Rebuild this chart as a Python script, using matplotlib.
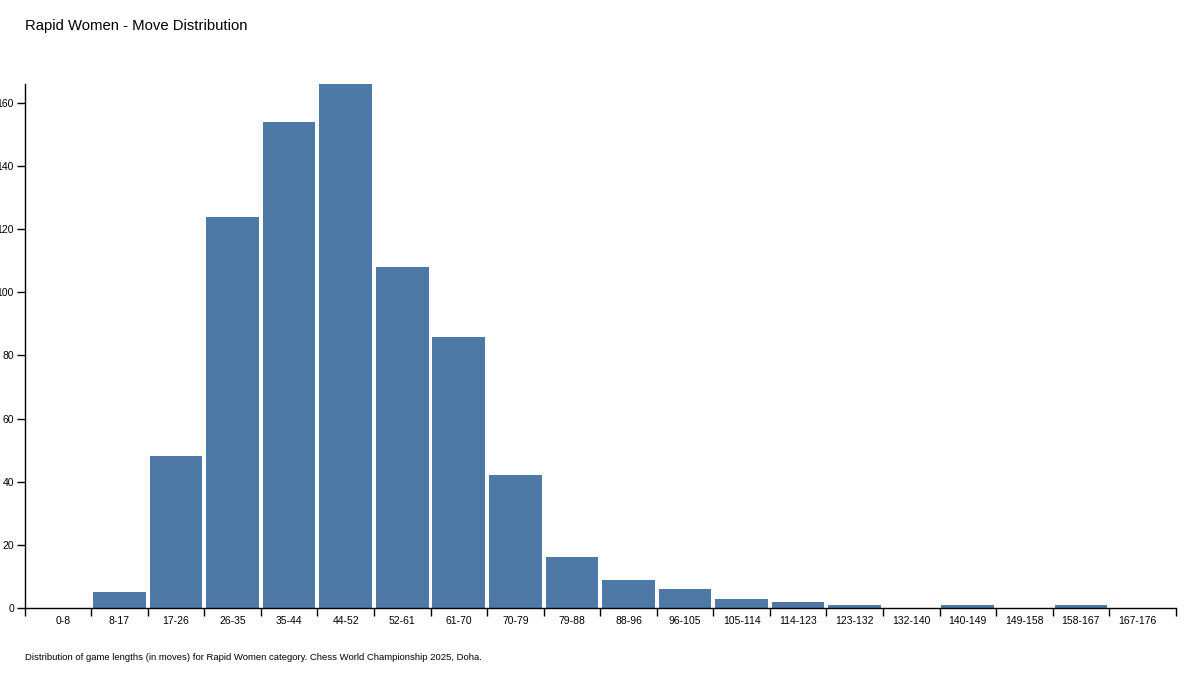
import numpy as np
import matplotlib
matplotlib.use("Agg")
import matplotlib.pyplot as plt

plt.rcParams['font.family'] = ['Liberation Sans', 'DejaVu Sans']

labels = ["0-8", "8-17", "17-26", "26-35", "35-44", "44-52", "52-61", "61-70",
          "70-79", "79-88", "88-96", "96-105", "105-114", "114-123", "123-132",
          "132-140", "140-149", "149-158", "158-167", "167-176"]
counts = [0, 5, 48, 124, 154, 166, 108, 86, 42, 16, 9, 6, 3, 2, 1, 0, 1, 0, 1, 0]
move_min, move_max = 0, 176
y_ticks = [0, 20, 40, 60, 80, 100, 120, 140, 160]

edges = np.linspace(move_min, move_max, len(counts) + 1)
centers = (edges[:-1] + edges[1:]) / 2
width = edges[1] - edges[0]

fig = plt.figure(figsize=(12, 6.75), dpi=100)
ax = fig.add_axes([25/1200, 1 - 608/675, (1176 - 25)/1200, (608 - 84)/675])

ax.bar(edges[:-1] + width * 0.035, counts, width=width * 0.93, align='edge',
       color='#4e79a7', edgecolor='none')

ax.set_xlim(-1.5, 177.6)
ax.set_ylim(0, max(counts))
ax.set_yticks(y_ticks)
ax.set_yticklabels([str(v) for v in y_ticks])

ax.set_xticks(list(edges[1:-1]) + [-1.5, 177.6])
ax.set_xticklabels([])
ax.set_xticks(centers, minor=True)
ax.set_xticklabels(labels, minor=True)
ax.tick_params(axis='x', which='minor', length=0, pad=6, labelsize=7.5)
ax.tick_params(axis='x', which='major', length=6, width=1, color='black')
ax.tick_params(axis='y', length=6, width=1, labelsize=7.5, pad=2)

for s in ['top', 'right']:
    ax.spines[s].set_visible(False)
for s in ['left', 'bottom']:
    ax.spines[s].set_color('black')
    ax.spines[s].set_linewidth(1)

fig.text(25/1200, 1 - 26/675, "Rapid Women - Move Distribution", fontsize=10.7,
         ha='left', va='center', color='black')
fig.text(25/1200, 1 - 658/675,
         "Distribution of game lengths (in moves) for Rapid Women category. Chess World Championship 2025, Doha.",
         fontsize=6.8, ha='left', va='center', color='black')

fig.savefig("out.png", dpi=100)
